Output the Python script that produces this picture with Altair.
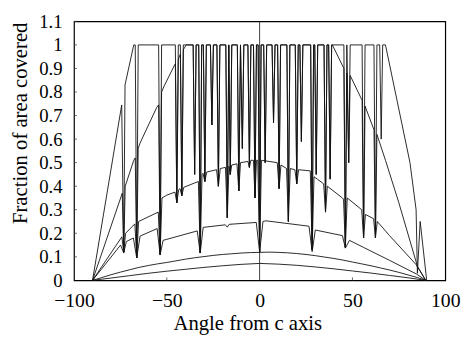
import altair as alt
import pandas as pd

# ---- data (angle, fraction) ----
c1 = [(-90, 0), (-74.3, 0.745), (-73.2, 0.12), (-72.5, 0.83), (-67.8, 1), (-67.0, 1), (-66.2, 0.095), (-65.4, 1),
      (-54.4, 1), (-53.6, 0.11), (-52.8, 1), (-45.4, 1), (-44.6, 0.33), (-43.8, 1), (-42.7, 1), (-41.9, 0.36), (-41.1, 1),
      (-35.8, 1), (-35.0, 0.45), (-34.2, 1), (-32.8, 1), (-32.0, 0.117), (-31.2, 1), (-30.3, 1), (-29.5, 0.42), (-28.7, 1),
      (-26.5, 1), (-25.7, 0.66), (-24.9, 1), (-23.0, 1), (-22.2, 0.40), (-21.4, 1), (-18.2, 1), (-17.4, 0.266), (-16.6, 1),
      (-15.8, 0.45), (-15.0, 1), (-12.0, 1), (-11.2, 0.38), (-10.3, 1), (-9.3, 0.56), (-8.5, 1), (-6.3, 1), (-5.5, 0.48),
      (-4.7, 1), (-3.3, 1), (-2.5, 0.35), (-1.7, 1), (-0.8, 1), (0.0, 0.12), (0.8, 1), (2.2, 1), (3.0, 0.5), (3.8, 1),
      (6.7, 1), (7.5, 0.67), (8.3, 1), (9.7, 1), (10.5, 0.39), (11.3, 1), (14.7, 1), (15.5, 0.25), (16.3, 1), (19.2, 1),
      (20.0, 0.41), (20.8, 1), (21.7, 1), (22.5, 0.59), (23.3, 1), (27.5, 1), (28.3, 0.13), (29.1, 1), (29.7, 1),
      (30.5, 0.45), (31.3, 1), (34.7, 1), (35.5, 0.29), (36.3, 1), (37.2, 1), (38.0, 0.43), (38.8, 1), (45.4, 1),
      (46.2, 0.14), (47.0, 1), (48.0, 0.5), (48.8, 1), (55.2, 1), (56.0, 0.18), (56.8, 1), (61.6, 1), (62.4, 0.18),
      (63.2, 1), (64.7, 1), (65.5, 0.6), (66.3, 1), (67.8, 1), (81.0, 0.5), (84.3, 0.3), (85.0, 0.03), (86.5, 0.25),
      (90.0, 0)]

c2 = [(-90, 0), (-74.0, 0.37), (-73.2, 0.12), (-72.4, 0.40), (-67.8, 0.51), (-67.0, 0.52), (-66.2, 0.095), (-65.4, 0.56),
      (-64.6, 0.58), (-55.4, 0.735), (-54.4, 0.745), (-53.6, 0.11), (-52.8, 0.80), (-51.4, 0.826), (-45.7, 0.916),
      (-45.4, 0.92), (-44.6, 0.33), (-43.8, 0.94), (-42.7, 0.96), (-41.9, 0.36), (-41.1, 0.98), (-39.5, 1.0),
      (-35.8, 1), (-35.0, 0.45), (-34.2, 1), (-32.8, 1), (-32.0, 0.117), (-31.2, 1), (-30.3, 1), (-29.5, 0.42), (-28.7, 1),
      (-26.5, 1), (-25.7, 0.66), (-24.9, 1), (-23.0, 1), (-22.2, 0.40), (-21.4, 1), (-18.2, 1), (-17.4, 0.266), (-16.6, 1),
      (-15.8, 0.45), (-15.0, 1), (-12.0, 1), (-11.2, 0.38), (-10.3, 1), (-9.3, 0.56), (-8.5, 1), (-6.3, 1), (-5.5, 0.48),
      (-4.7, 1), (-3.3, 1), (-2.5, 0.35), (-1.7, 1), (-0.8, 1), (0.0, 0.12), (0.8, 1), (2.2, 1), (3.0, 0.5), (3.8, 1),
      (6.7, 1), (7.5, 0.67), (8.3, 1), (9.7, 1), (10.5, 0.39), (11.3, 1), (14.7, 1), (15.5, 0.25), (16.3, 1), (19.2, 1),
      (20.0, 0.41), (20.8, 1), (21.7, 1), (22.5, 0.59), (23.3, 1), (27.5, 1), (28.3, 0.13), (29.1, 1), (29.7, 1),
      (30.5, 0.45), (31.3, 1), (34.7, 1), (35.5, 0.29), (36.3, 1), (37.2, 1), (38.0, 0.43), (38.8, 1), (39.2, 1.0),
      (45.4, 0.9), (46.2, 0.14), (47.0, 0.88), (48.0, 0.5), (48.8, 0.87), (55.2, 0.765), (56.0, 0.18), (56.8, 0.74),
      (61.6, 0.64), (62.4, 0.18), (63.2, 0.62), (67.8, 0.51), (75.0, 0.33), (85.0, 0.06), (89.5, 0)]

c3 = [(-90, 0), (-74.2, 0.185), (-73.2, 0.12), (-72.2, 0.2), (-67.2, 0.24), (-66.2, 0.095), (-65.2, 0.25),
      (-54.6, 0.29), (-53.6, 0.11), (-52.6, 0.35), (-50.0, 0.362), (-45.6, 0.375), (-44.6, 0.33), (-43.6, 0.385),
      (-42.9, 0.39), (-41.9, 0.36), (-40.9, 0.395), (-33.0, 0.42), (-32.0, 0.117), (-31.0, 0.45), (-30.5, 0.455),
      (-29.5, 0.42), (-28.5, 0.46), (-23.2, 0.47), (-22.2, 0.40), (-21.2, 0.475), (-18.4, 0.48), (-17.4, 0.266),
      (-16.5, 0.485), (-15.8, 0.45), (-15.0, 0.49), (-12.2, 0.495), (-11.2, 0.38), (-10.3, 0.5), (-6.3, 0.505),
      (-5.5, 0.48), (-4.7, 0.51), (-3.3, 0.51), (-2.5, 0.35), (-1.7, 0.51), (-1.0, 0.51), (0.0, 0.12), (1.0, 0.51),
      (9.5, 0.5), (10.5, 0.39), (11.5, 0.49), (14.5, 0.475), (15.5, 0.25), (16.5, 0.475), (19.0, 0.47), (20.0, 0.41),
      (21.0, 0.47), (27.3, 0.465), (28.3, 0.13), (29.3, 0.44), (31.1, 0.43), (34.5, 0.41), (35.5, 0.29), (36.5, 0.4),
      (44.6, 0.35), (45.2, 0.345), (46.2, 0.14), (47.2, 0.35), (55.0, 0.3), (56.0, 0.18), (57.0, 0.28), (61.4, 0.262),
      (62.4, 0.18), (63.4, 0.25), (70.0, 0.19), (84.2, 0.068), (89.5, 0)]

c4 = [(-90, 0), (-74.9, 0.15), (-73.2, 0.116), (-71.8, 0.165), (-68.0, 0.18), (-66.2, 0.095), (-64.4, 0.188),
      (-55.2, 0.22), (-53.6, 0.109), (-52.0, 0.17), (-33.6, 0.21), (-32.0, 0.116), (-30.4, 0.225), (-18.5, 0.236),
      (-17.4, 0.226), (-16.4, 0.238), (-1.8, 0.246), (0.0, 0.12), (1.8, 0.25), (3.4, 0.253), (26.6, 0.23),
      (28.3, 0.122), (30.0, 0.214), (44.6, 0.19), (46.2, 0.137), (48.4, 0.17), (56.0, 0.14), (70.0, 0.085),
      (84.5, 0.027), (89.5, 0)]

c5 = [(-90, 0), (-85, 0.012), (-80, 0.024), (-75, 0.035), (-70, 0.045), (-65, 0.055), (-60, 0.063), (-55, 0.07),
      (-50, 0.076), (-45, 0.083), (-40, 0.09), (-35, 0.096), (-30, 0.101), (-25, 0.106), (-20, 0.11), (-15, 0.113),
      (-10, 0.116), (-5, 0.118), (0, 0.119), (5, 0.12), (10, 0.119), (15, 0.117), (20, 0.114), (25, 0.11), (30, 0.105),
      (35, 0.099), (40, 0.093), (45, 0.086), (50, 0.078), (55, 0.07), (60, 0.062), (65, 0.053), (70, 0.044),
      (75, 0.034), (80, 0.023), (85, 0.012), (89.5, 0)]

c6 = [(-90, 0), (-80, 0.01), (-70, 0.02), (-60, 0.03), (-50, 0.039), (-40, 0.047), (-30, 0.055), (-20, 0.062),
      (-10, 0.068), (0, 0.072), (10, 0.069), (20, 0.064), (30, 0.057), (40, 0.049), (50, 0.04), (60, 0.031),
      (70, 0.021), (80, 0.011), (89.5, 0)]

x_ticks = [-100, -50, 0, 50, 100]
y_ticks = [0, 0.1, 0.2, 0.3, 0.4, 0.5, 0.6, 0.7, 0.8, 0.9, 1.0, 1.1]

rows = []
for name, pts in [("c1", c1), ("c2", c2), ("c3", c3), ("c4", c4), ("c5", c5), ("c6", c6)]:
    for i, (a, f) in enumerate(pts):
        rows.append({"curve": name, "angle": a, "frac": f, "order": i})
df = pd.DataFrame(rows)

W, H = 377, 263
FONT = "Liberation Serif"
xs = alt.Scale(domain=[-100, 100], nice=False, zero=False)
ys = alt.Scale(domain=[0, 1.1], nice=False, zero=False)

x_axis = alt.Axis(values=x_ticks, format="d", title="Angle from c axis", ticks=False, tickSize=0,
                  domain=False, grid=False, labelPadding=11, labelFlush=False, labelOverlap=False,
                  labelFont=FONT, labelFontSize=20, labelColor="black",
                  titleFont=FONT, titleFontSize=21, titleFontWeight="normal",
                  titleColor="black", titleX=176, titleY=50, titleBaseline="alphabetic")
y_axis = alt.Axis(values=y_ticks, format=".2~g", title="Fraction of area covered", ticks=False, tickSize=0,
                  domain=False, grid=False, labelPadding=12, labelFlush=False, labelOverlap=False,
                  labelFont=FONT, labelFontSize=19, labelColor="black",
                  titleFont=FONT, titleFontSize=21, titleFontWeight="normal",
                  titleColor="black", titleX=-48, titleY=103, titleAngle=270, titleAlign="center",
                  titleBaseline="alphabetic")

lines = alt.Chart(df).mark_line(color="#111111", strokeWidth=0.9).encode(
    x=alt.X("angle:Q", scale=xs, axis=x_axis),
    y=alt.Y("frac:Q", scale=ys, axis=y_axis),
    detail="curve:N",
    order="order:Q",
)

zero_df = pd.DataFrame({"angle": [0], "frac": [0], "frac_top": [1.1]})
zero_rule = alt.Chart(zero_df).mark_rule(color="#111111", strokeWidth=0.8).encode(
    x=alt.X("angle:Q", scale=xs, axis=x_axis),
    y=alt.Y("frac:Q", scale=ys, axis=y_axis),
    y2="frac_top:Q")

yt_df = pd.DataFrame({"frac": y_ticks[1:]})
y_tick_marks = alt.Chart(yt_df).mark_rule(color="#444444", strokeWidth=0.8).encode(
    y=alt.Y("frac:Q", scale=ys, axis=y_axis), x=alt.value(0), x2=alt.value(3))

xt_df = pd.DataFrame({"angle": [-50, 50]})
x_tick_marks = alt.Chart(xt_df).mark_rule(color="#444444", strokeWidth=0.8).encode(
    x=alt.X("angle:Q", scale=xs, axis=x_axis), y=alt.value(H), y2=alt.value(H - 3))

chart = alt.layer(lines, zero_rule, y_tick_marks, x_tick_marks).properties(
    width=W, height=H,
    autosize=alt.AutoSizeParams(type="none"),
    padding={"left": 67, "top": 11, "right": 16, "bottom": 60},
    background="white",
).configure_view(stroke="black", strokeWidth=1.2)

chart.save("out.html", embed_options={"renderer": "svg", "actions": False})
